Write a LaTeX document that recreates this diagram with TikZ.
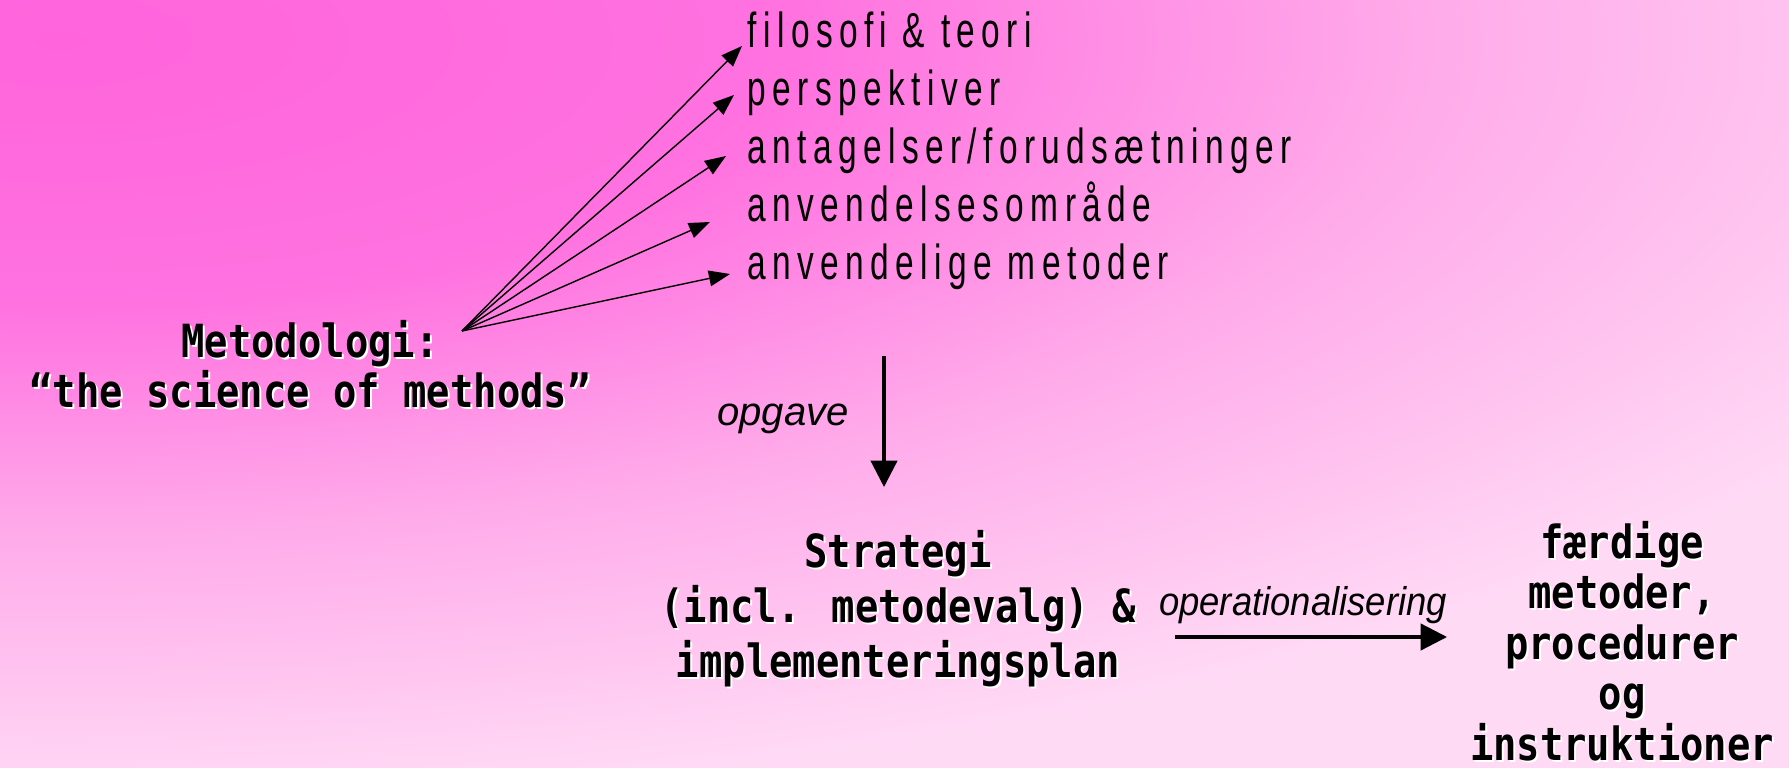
\documentclass[tikz,border=0pt]{standalone}
\usepackage{fontspec}
\usepackage{tikz}
\usetikzlibrary{arrows.meta}

\setmainfont{Liberation Sans}
\newfontfamily\listfont[FakeStretch=0.68,LetterSpace=13]{Liberation Sans}
\newfontfamily\blockfont[FakeStretch=0.85]{DejaVu Sans Mono}

\definecolor{hotpink}{RGB}{255,100,220}
\definecolor{warmpink}{RGB}{255,114,224}
\definecolor{midpink}{RGB}{255,172,234}
\definecolor{palepink}{RGB}{255,218,245}
\pgfdeclareradialshading{slidebg}{\pgfpoint{0bp}{0bp}}{color(0bp)=(hotpink); color(8bp)=(warmpink); color(15bp)=(midpink); color(23bp)=(palepink); color(50bp)=(palepink)}

\tikzset{
  listtxt/.style={anchor=base west, inner sep=0pt, font=\listfont\fontsize{14}{15}\selectfont},
  boldtxt/.style={align=center, inner sep=0pt},
  lbltxt/.style={inner sep=0pt, font=\itshape\fontsize{11.4}{13}\selectfont},
  fan/.style={line width=0.4pt, -{Triangle[length=6pt,width=4.5pt]}},
  bigarrow/.style={line width=0.9pt, -{Triangle[length=7.5pt,width=7.5pt]}},
}

% bold text with a white drop shadow: name, position, line distance, text
\newcommand{\boldblock}[4]{%
  \node[boldtxt,text=white,xshift=0.2mm,yshift=-0.2mm,
        font=\blockfont\bfseries\fontsize{13}{#3}\selectfont] at (#2) {#4};
  \node[boldtxt,font=\blockfont\bfseries\fontsize{13}{#3}\selectfont] (#1) at (#2) {#4};
}

\begin{document}
\begin{tikzpicture}[x=0.1mm,y=-0.1mm]
			\begin{scope}
				\clip (0,0) rectangle (1789,768);
				\fill[palepink] (0,0) rectangle (1789,768);
				\shade[shading=slidebg] (60,40) ellipse [x radius=2300, y radius=830];
			\end{scope}
			\useasboundingbox (0,0) rectangle (1789,768);
			% left block and the fan of arrows
			\boldblock{meth}{310,364}{14.2}{Metodologi:\\“the science of methods”}
			\node[listtxt] (item1) at (747,48) {filosofi \& teori};
			\node[listtxt] (item2) at (747,106) {perspektiver};
			\node[listtxt] (item3) at (747,164) {antagelser/forudsætninger};
			\node[listtxt] (item4) at (747,222) {anvendelsesområde};
			\node[listtxt] (item5) at (747,280) {anvendelige metoder};
			\coordinate (src) at (462,331);
			\coordinate (t1) at (742,46);
			\coordinate (t2) at (734,95);
			\coordinate (t3) at (726,156);
			\coordinate (t4) at (710,222);
			\coordinate (t5) at (730,274);
			\draw[fan] (src)--(t1);
			\draw[fan] (src)--(t2);
			\draw[fan] (src)--(t3);
			\draw[fan] (src)--(t4);
			\draw[fan] (src)--(t5);
			% downwards
			\coordinate (vtop) at (884,356);
			\coordinate (vbot) at (884,487);
			\draw[bigarrow] (vtop)--(vbot);
			\node[lbltxt] (opg) at (783,419) {opgave};
			% bottom row
			\boldblock{strat}{898,609}{15.6}{Strategi\\(incl. metodevalg) \&\\implementeringsplan}
			\boldblock{done}{1622,641}{14.4}{færdige\\metoder,\\procedurer\\og\\instruktioner}
			\coordinate (htail) at (1175,637);
			\coordinate (hhead) at (1447,637);
			\draw[bigarrow] (htail)--(hhead);
			\node[lbltxt,font=\addfontfeatures{FakeStretch=0.91}\itshape\fontsize{11.4}{13}\selectfont] (oper) at (1303,605) {operationalisering};
		\end{tikzpicture}
\end{document}
